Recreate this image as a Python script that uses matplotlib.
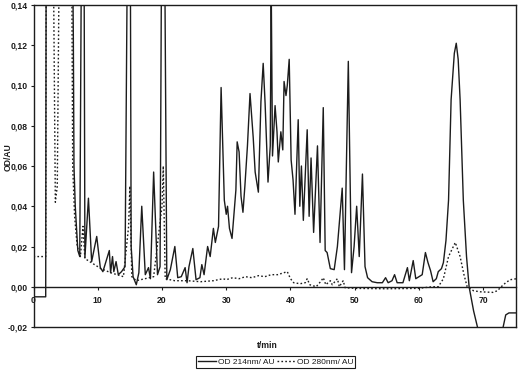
import matplotlib
matplotlib.use("Agg")
import matplotlib.pyplot as plt

plt.rcParams['font.family'] = ['Liberation Sans', 'DejaVu Sans']

# ---------------- data ----------------
t214 = [0, 1.9, 2.0, 5.9, 6.0, 6.2, 6.3, 6.5, 6.9, 7.2, 7.6, 7.8, 8.0, 8.55, 9.05, 9.84,
        10.4, 10.8, 11.8, 12.0, 12.3, 12.5, 12.85, 13.2, 13.7, 14.25, 14.8, 15.0, 15.2,
        15.5, 16.0, 16.4, 16.85, 17.4, 17.9, 18.2, 18.7, 19.3, 19.7, 20.05, 20.25, 20.75,
        21.3, 22.0, 22.45, 23.0, 23.6, 23.9, 24.2, 24.8, 25.3, 25.9, 26.2, 26.55, 27.1,
        27.5, 28.0, 28.3, 28.8, 29.2, 29.7, 30.0, 30.2, 30.5, 30.9, 31.1, 31.5, 31.7,
        32.0, 32.3, 32.6, 32.9, 33.3, 33.7, 34.2, 34.5, 35.0, 35.4, 35.75, 36.05, 36.5,
        36.85, 37.0, 37.2, 37.6, 37.9, 38.1, 38.5, 38.8, 39.0, 39.3, 39.5, 39.8, 40.1,
        40.4, 40.7, 41.2, 41.45, 41.7, 42.0, 42.6, 42.9, 43.2, 43.6, 44.2, 44.6, 45.1,
        45.4, 45.7, 46.2, 46.8, 47.3, 48.05, 48.4, 49.0, 49.5, 49.9, 50.3, 50.7, 51.2,
        51.6, 52.0, 52.7, 53.5, 54.3, 54.8, 55.2, 55.8, 56.2, 56.6, 57.5, 58.2, 58.5,
        59.1, 59.5, 60.0, 60.5, 61.0, 61.4, 61.8, 62.2, 62.7, 63.0, 63.5, 63.8, 64.2,
        64.6, 65.0, 65.5, 65.8, 66.1, 66.4, 66.9, 67.4, 67.8, 68.5, 69.1, 69.5, 72.6,
        73.1, 73.5, 74.0, 75.2]
od214 = [-0.005, -0.005, 0.25, 0.25, 0.2, 0.124, 0.06, 0.04, 0.018, 0.015, 0.25, 0.25,
         0.0145, 0.044, 0.0125, 0.025, 0.0095, 0.0075, 0.018, 0.007, 0.015, 0.0075,
         0.0125, 0.006, 0.0075, 0.010, 0.25, 0.25, 0.02, 0.005, 0.001, 0.007, 0.040,
         0.006, 0.0095, 0.004, 0.057, 0.006, 0.010, 0.25, 0.25, 0.0035, 0.0085, 0.020,
         0.0045, 0.005, 0.0095, 0.002, 0.010, 0.019, 0.0035, 0.0045, 0.011, 0.006, 0.020,
         0.015, 0.029, 0.022, 0.030, 0.099, 0.043, 0.036, 0.040, 0.029, 0.024, 0.032,
         0.048, 0.072, 0.067, 0.045, 0.037, 0.050, 0.070, 0.096, 0.074, 0.057, 0.047,
         0.092, 0.111, 0.091, 0.052, 0.070, 0.150, 0.065, 0.090, 0.077, 0.062, 0.077,
         0.068, 0.102, 0.095, 0.100, 0.113, 0.063, 0.053, 0.036, 0.083, 0.040, 0.060,
         0.033, 0.078, 0.035, 0.064, 0.027, 0.070, 0.022, 0.089, 0.018, 0.017, 0.009,
         0.0085, 0.020, 0.049, 0.0085, 0.112, 0.007, 0.020, 0.040, 0.015, 0.056, 0.010,
         0.0045, 0.0025, 0.002, 0.002, 0.0045, 0.002, 0.003, 0.006, 0.002, 0.002, 0.0095,
         0.003, 0.013, 0.004, 0.005, 0.006, 0.017, 0.012, 0.008, 0.0025, 0.004, 0.0075,
         0.009, 0.012, 0.023, 0.043, 0.093, 0.116, 0.121, 0.113, 0.093, 0.043, 0.015,
         0.0, -0.012, -0.020, -0.030, -0.030, -0.020, -0.014, -0.013, -0.013]

t280 = [0, 1.9, 2.0, 3.0, 3.4, 3.7, 4.1, 5.9, 6.1, 6.4, 6.8, 7.3, 7.7, 8.0, 8.5, 9.5,
        10.5, 12.0, 14.0, 14.8, 15.0, 15.3, 16.0, 18.7, 20.0, 20.2, 20.5, 22.0, 24.0,
        26.0, 28.0, 29.5, 30.0, 31.0, 32.0, 33.0, 34.0, 35.0, 36.0, 37.0, 38.0, 39.0,
        39.5, 40.0, 40.5, 41.5, 42.3, 42.6, 43.0, 44.0, 44.8, 45.1, 45.5, 46.2, 46.5,
        47.3, 47.6, 48.2, 48.5, 50.0, 55.0, 60.0, 62.0, 63.0, 63.8, 64.6, 65.65, 66.4,
        67.0, 67.5, 68.5, 69.5, 71.5, 72.2, 72.8, 73.5, 74.2, 75.2]
od280 = [0.015, 0.015, 0.2, 0.2, 0.042, 0.05, 0.2, 0.2, 0.06, 0.035, 0.02, 0.015, 0.03,
         0.014, 0.013, 0.011, 0.009, 0.007, 0.005, 0.03, 0.05, 0.005, 0.003, 0.005, 0.04,
         0.06, 0.004, 0.003, 0.003, 0.0025, 0.003, 0.004, 0.0035, 0.0045, 0.004, 0.005,
         0.0045, 0.0055, 0.005, 0.006, 0.006, 0.007, 0.0075, 0.004, 0.002, 0.0015, 0.002,
         0.004, 0.001, 0.0, 0.003, 0.0045, 0.001, 0.003, 0.001, 0.004, 0.0, 0.003,
         -0.0005, -0.0008, -0.001, -0.0008, 0.0, 0.0, 0.004, 0.015, 0.022, 0.015, 0.006,
         0.0, -0.002, -0.0025, -0.0028, -0.002, 0.0, 0.002, 0.0035, 0.004]

yticks = [-0.02, 0.0, 0.02, 0.04, 0.06, 0.08, 0.10, 0.12, 0.14]
ytick_labels = ["-0,02", "0,00", "0,02", "0,04", "0,06", "0,08", "0,10", "0,12", "0,14"]
xticks = [0, 10, 20, 30, 40, 50, 60, 70]
xtick_labels = ["0", "10", "20", "30", "40", "50", "60", "70"]

# ---------------- figure ----------------
W, H = 520, 377
fig = plt.figure(figsize=(W / 100, H / 100), dpi=100)
ax = fig.add_axes([33.5 / W, 1 - 327 / H, (516 - 33.5) / W, (327 - 5) / H])

ink = '#1c1c1c'
l1, = ax.plot(t214, od214, color=ink, lw=1.0, label='OD 214nm/ AU')
l2, = ax.plot(t280, od280, color=ink, lw=1.0, linestyle=(0, (1.2, 1.6)),
              label='OD 280nm/ AU')

ax.set_xlim(0, 75.1)
ax.set_ylim(-0.02, 0.14)

for s in ax.spines.values():
    s.set_linewidth(1.0)
    s.set_color(ink)

ax.set_yticks(yticks)
ax.set_yticklabels(ytick_labels, fontsize=6.2, fontweight='bold', color=ink)
ax.tick_params(axis='y', direction='out', length=2.5, width=0.8, pad=1.5, color=ink)
ax.set_xticks([])

# x axis drawn at OD = 0 (axes fraction of y=0)
frac0 = (0 - (-0.02)) / (0.14 - (-0.02))
sec = ax.secondary_xaxis(frac0)
sec.set_xticks(xticks)
sec.set_xticklabels(xtick_labels, fontsize=6.2, fontweight='bold', color=ink)
sec.tick_params(direction='out', length=2.5, width=0.8, pad=4, color=ink)
sec.spines['bottom'].set_linewidth(1.0)
sec.spines['bottom'].set_color(ink)

fig.text(0.515, 1 - 345 / H, 't/min', ha='center', va='center', fontsize=6.2,
         fontweight='bold', color=ink)
fig.text(8 / W, 1 - 157 / H, 'OD/AU', ha='center', va='center', rotation=90,
         fontsize=6.2, fontweight='bold', color=ink)

leg = fig.legend(handles=[l1, l2], loc='center', bbox_to_anchor=(275.5 / W, 1 - 362 / H),
                 ncol=2, fontsize=6, frameon=True, fancybox=False, framealpha=1,
                 edgecolor=ink, handlelength=2.2, handletextpad=0.2,
                 columnspacing=0.3, borderpad=0.25, borderaxespad=0)
leg.get_frame().set_linewidth(0.8)
for txt in leg.get_texts():
    txt.set_color(ink)

fig.savefig('out.png', dpi=100)
